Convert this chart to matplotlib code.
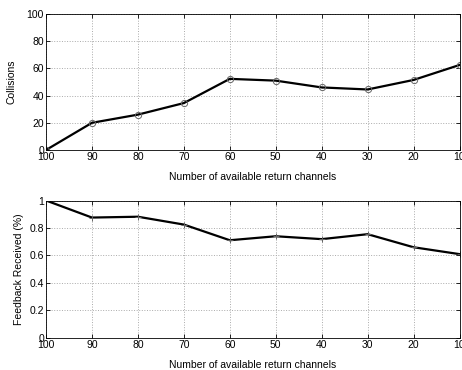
import matplotlib.pyplot as plt

plt.rcParams["font.family"] = ["Liberation Sans", "DejaVu Sans"]
plt.rcParams["font.size"] = 7.5

# Data
channels = [100, 90, 80, 70, 60, 50, 40, 30, 20, 10]
collisions = [0, 20, 26, 34.5, 52.3, 51, 46, 44.5, 51.5, 62.5]
feedback = [1.0, 0.876, 0.882, 0.825, 0.711, 0.74, 0.719, 0.755, 0.66, 0.61]
xticks = [100, 90, 80, 70, 60, 50, 40, 30, 20, 10]

fig = plt.figure(figsize=(4.62, 3.70), dpi=100)
ax1 = fig.add_axes([0.0996, 0.5946, 0.895, 0.3676])
ax2 = fig.add_axes([0.0996, 0.0865, 0.895, 0.3716])


def style(ax):
    ax.set_xlim(100, 10)
    ax.set_xticks(xticks)
    ax.grid(True, linestyle=":", color="#aaaaaa", linewidth=0.7)
    ax.tick_params(direction="in", length=3, width=0.6, pad=1.5, top=True, right=True)
    for s in ax.spines.values():
        s.set_linewidth(0.6)
    ax.set_xlabel("Number of available return channels", labelpad=7)


ax1.plot(channels, collisions, color="black", linewidth=1.6, marker="o",
         markersize=4.5, markerfacecolor="none", markeredgecolor="#666666",
         markeredgewidth=0.7)
ax1.set_ylim(0, 100)
ax1.set_yticks([0, 20, 40, 60, 80, 100])
ax1.set_ylabel("Collisions", labelpad=7)
style(ax1)

ax2.plot(channels, feedback, color="black", linewidth=1.6, marker="+",
         markersize=4, markeredgecolor="#666666", markeredgewidth=0.7)
ax2.set_ylim(0, 1)
ax2.set_yticks([0, 0.2, 0.4, 0.6, 0.8, 1])
ax2.set_yticklabels(["0", "0.2", "0.4", "0.6", "0.8", "1"])
ax2.set_ylabel("Feedback Received (%)", labelpad=4)
style(ax2)

fig.savefig("out.png", dpi=100)
